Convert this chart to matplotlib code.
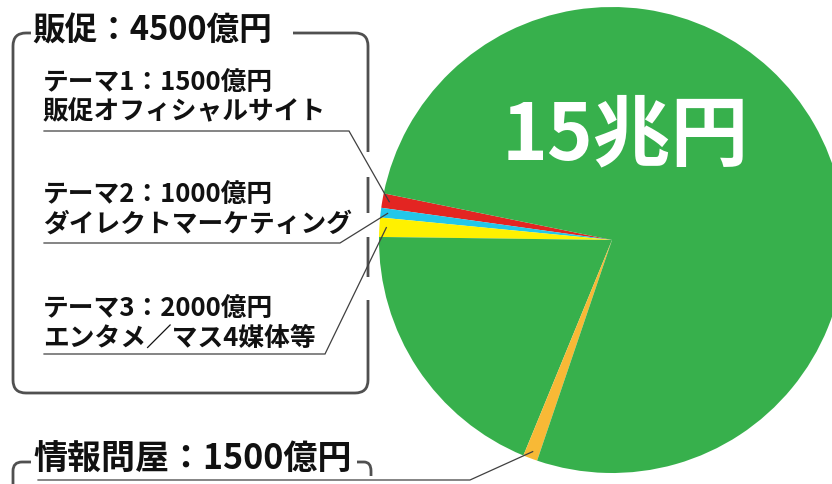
import numpy as np
import matplotlib
matplotlib.use("Agg")
import matplotlib.pyplot as plt
from matplotlib.path import Path
from matplotlib.patches import PathPatch

plt.rcParams['font.family'] = ['Noto Sans CJK JP', 'DejaVu Sans']

# ---- data (億円) ----
slice_names = ["テーマ1", "テーマ2", "テーマ3", "その他A", "情報問屋", "その他B"]
slice_values = [1500, 1000, 2000, 28500, 1500, 115500]
slice_colors = ["#e32522", "#22c7ea", "#fff100", "#37b04c", "#f8b936", "#37b04c"]
total_label = "15兆円"
group_title = "販促：4500億円"
theme_labels = ["テーマ1：1500億円\n販促オフィシャルサイト",
                "テーマ2：1000億円\nダイレクトマーケティング",
                "テーマ3：2000億円\nエンタメ／マス4媒体等"]
broker_title = "情報問屋：1500億円"

W, H = 832, 484
def Y(y):
    return H - y

fig = plt.figure(figsize=(W / 100, H / 100), dpi=100)
ax = fig.add_axes([0, 0, 1, 1])

cx, cy, R = 612, Y(240), 233
start = 168.45
wedges, _ = ax.pie(slice_values, colors=slice_colors, startangle=start,
                   counterclock=True, center=(cx, cy), radius=R,
                   wedgeprops=dict(linewidth=0), frame=False)
ax.set_xlim(0, W)
ax.set_ylim(0, H)
ax.axis('off')

def wedge_point(w, frac=0.97):
    a = np.deg2rad((w.theta1 + w.theta2) / 2)
    return cx + frac * R * np.cos(a), cy + frac * R * np.sin(a)

box_col = "#505050"
box_lw = 2.0
lead_col = "#404040"
lead_lw = 0.9
weight = 'bold'

def make_path(points_codes):
    verts = [p for p, c in points_codes]
    codes = [c for p, c in points_codes]
    return Path(verts, codes)

M, L, C = Path.MOVETO, Path.LINETO, Path.CURVE3
r = 13
# top bracket box
xl, xr, yt, yb = 13, 368, Y(33), Y(393)
segs = []
segs += [((293, yt), M), ((xr - r, yt), L), ((xr, yt), C), ((xr, yt - r), C), ((xr, Y(152)), L)]
segs += [((xr, Y(177)), M), ((xr, Y(213)), L)]
segs += [((xr, Y(237)), M), ((xr, Y(277)), L)]
segs += [((xr, Y(300)), M), ((xr, yb + r), L), ((xr, yb), C), ((xr - r, yb), C),
         ((xl + r, yb), L), ((xl, yb), C), ((xl, yb + r), C),
         ((xl, yt - r), L), ((xl, yt), C), ((xl + r, yt), C), ((31, yt), L)]
ax.add_patch(PathPatch(make_path(segs), fill=False, edgecolor=box_col, lw=box_lw,
                       capstyle='butt', joinstyle='round'))

# bottom bracket
yt2 = Y(462)
r2 = 9
segs2 = [((xl, Y(490)), M), ((xl, yt2 - r2), L), ((xl, yt2), C), ((xl + r2, yt2), C), ((31, yt2), L),
         ((357, yt2), M), ((364, yt2), L), ((371, yt2), C), ((371, yt2 - r2), C), ((371, Y(476)), L)]
ax.add_patch(PathPatch(make_path(segs2), fill=False, edgecolor=box_col, lw=box_lw,
                       capstyle='butt', joinstyle='round'))

# titles
ax.text(32, Y(31), group_title, fontsize=23.5, fontweight=weight, ha='left', va='center', color='#111111')
ax.text(33, Y(459), broker_title, fontsize=24.5, fontweight=weight, ha='left', va='center', color='#111111')

# theme labels + leader lines
label_y = [97, 209, 323]
under_y = [131, 243, 354]
under_x1 = [349, 340, 325]
for i in range(3):
    ax.text(43, Y(label_y[i]), theme_labels[i], fontsize=18.5, fontweight=weight, ha='left',
            va='center', color='#111111', linespacing=1.12)
    px, py = wedge_point(wedges[i])
    ax.plot([44, under_x1[i], px], [Y(under_y[i]), Y(under_y[i]), py], color=lead_col, lw=lead_lw,
            solid_joinstyle='miter')

px, py = wedge_point(wedges[4])
ax.plot([38, 470, px], [Y(480), Y(480), py], color=lead_col, lw=lead_lw)

# big label
ax.text(502, Y(137), total_label, fontsize=56, fontweight=weight, color='white', ha='left', va='center')

fig.savefig("out.png", dpi=100)
